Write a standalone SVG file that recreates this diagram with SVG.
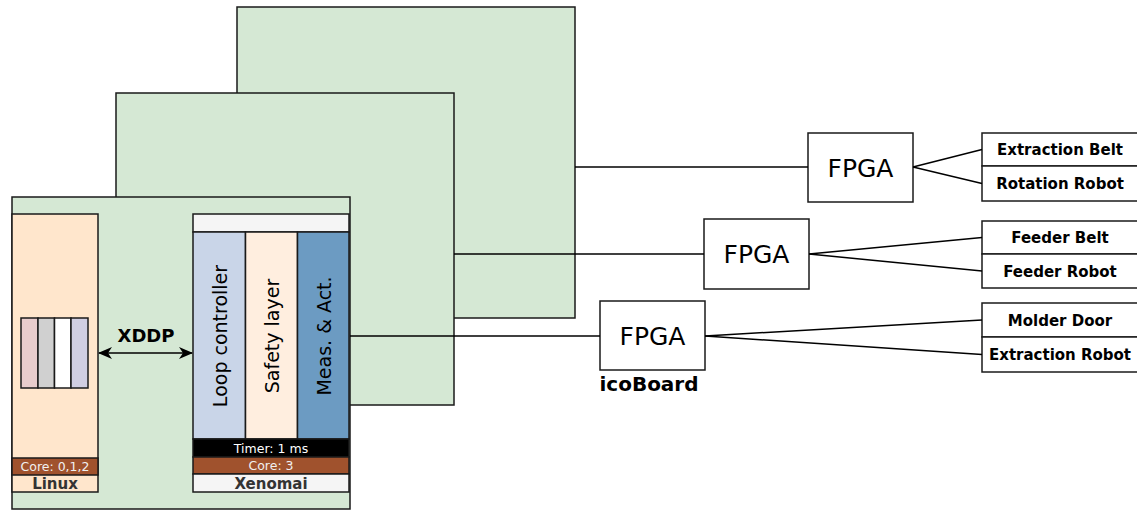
<svg xmlns="http://www.w3.org/2000/svg" width="1137" height="510" viewBox="0 0 1137 510">
<style>
.b{stroke:#1a1a1a;stroke-width:1.5}
.g{fill:#d5e8d4}
.w{fill:#ffffff}
.t{font-family:"DejaVu Sans",Verdana,sans-serif;fill:#000}
.bold{font-weight:bold}
.ln{stroke:#000;stroke-width:1.5;fill:none}
</style>
<defs>
<marker id="ah" viewBox="0 0 14 12" refX="13" refY="6" markerWidth="14" markerHeight="12" markerUnits="userSpaceOnUse" orient="auto-start-reverse">
<path d="M0,0 L14,6 L0,12 L4,6 Z" fill="#000"/>
</marker>
</defs>
<g id="rack3"><rect class="b g" x="237" y="7" width="338" height="311"/></g>
<g id="rack2"><rect class="b g" x="116" y="93" width="338" height="312"/></g>
<g id="rack1"><rect class="b g" x="12" y="197" width="338" height="312"/></g>
<g id="linux">
<rect class="b" fill="#ffe6cc" x="12" y="214" width="86" height="278"/>
<rect class="b" fill="#a0522d" x="12" y="458" width="86" height="17"/>
<text class="t" x="55" y="471" font-size="12.5" fill="#f0f0f0" style="fill:#f0f0f0" text-anchor="middle">Core: 0,1,2</text>
<text class="t bold" x="55" y="489" font-size="15" style="fill:#333" text-anchor="middle">Linux</text>
</g>
<g id="queue">
<rect class="b" fill="#e8cccc" x="21" y="318" width="17" height="70"/>
<rect class="b" fill="#d0d0d0" x="38" y="318" width="16.5" height="70"/>
<rect class="b" fill="#ffffff" x="54.5" y="318" width="16.5" height="70"/>
<rect class="b" fill="#d0cee2" x="71" y="318" width="17" height="70"/>
</g>
<g id="xenomai">
<rect class="b" fill="#f5f5f5" x="193" y="214" width="156" height="18"/>
<rect class="b" fill="#c9d5e8" x="193" y="232" width="52.5" height="207"/>
<rect class="b" fill="#ffeedf" x="245.5" y="232" width="52" height="207"/>
<rect class="b" fill="#6c9bc2" x="297.5" y="232" width="51.5" height="207"/>
<text class="t" font-size="19" text-anchor="middle" dominant-baseline="central" transform="translate(219.5,336) rotate(-90)">Loop controller</text>
<text class="t" font-size="19" text-anchor="middle" dominant-baseline="central" transform="translate(271.5,336) rotate(-90)">Safety layer</text>
<text class="t" font-size="19" text-anchor="middle" dominant-baseline="central" transform="translate(323.5,336) rotate(-90)">Meas. &amp; Act.</text>
<rect class="b" fill="#000" x="193" y="439" width="156" height="18"/>
<text class="t" x="271" y="452.5" font-size="12.5" style="fill:#fff" text-anchor="middle">Timer: 1 ms</text>
<rect class="b" fill="#a0522d" x="193" y="457" width="156" height="17"/>
<text class="t" x="271" y="470" font-size="12.5" style="fill:#f0f0f0" text-anchor="middle">Core: 3</text>
<rect class="b" fill="#f5f5f5" x="193" y="474" width="156" height="18"/>
<text class="t bold" x="271" y="488.5" font-size="15" style="fill:#333" text-anchor="middle">Xenomai</text>
</g>
<g id="fpga1">
<rect class="b w" x="808" y="133" width="105" height="69"/>
<text class="t" x="860.5" y="176.5" font-size="25" text-anchor="middle">FPGA</text>
</g>
<g id="fpga2">
<rect class="b w" x="704" y="219" width="105" height="70"/>
<text class="t" x="756.5" y="263" font-size="25" text-anchor="middle">FPGA</text>
</g>
<g id="fpga3">
<rect class="b w" x="600" y="301" width="105" height="69"/>
<text class="t" x="652.5" y="345" font-size="25" text-anchor="middle">FPGA</text>
<text class="t bold" x="649" y="391" font-size="20" text-anchor="middle">icoBoard</text>
</g>
<g id="extraction-belt">
<rect class="b w" x="982" y="133" width="156" height="33"/>
<text class="t bold" x="1060" y="155" font-size="15" text-anchor="middle">Extraction Belt</text>
</g>
<g id="rotation-robot">
<rect class="b w" x="982" y="166" width="156" height="35"/>
<text class="t bold" x="1060" y="189" font-size="15" text-anchor="middle">Rotation Robot</text>
</g>
<g id="feeder-belt">
<rect class="b w" x="982" y="221" width="156" height="33"/>
<text class="t bold" x="1060" y="243" font-size="15" text-anchor="middle">Feeder Belt</text>
</g>
<g id="feeder-robot">
<rect class="b w" x="982" y="254" width="156" height="34"/>
<text class="t bold" x="1060" y="276.5" font-size="15" text-anchor="middle">Feeder Robot</text>
</g>
<g id="molder-door">
<rect class="b w" x="982" y="303" width="156" height="34"/>
<text class="t bold" x="1060" y="325.5" font-size="15" text-anchor="middle">Molder Door</text>
</g>
<g id="extraction-robot">
<rect class="b w" x="982" y="337" width="156" height="35"/>
<text class="t bold" x="1060" y="360" font-size="15" text-anchor="middle">Extraction Robot</text>
</g>
<g id="connectors">
<line class="ln" x1="575" y1="167" x2="808" y2="167"/>
<line class="ln" x1="454" y1="254" x2="704" y2="254"/>
<line class="ln" x1="350" y1="336" x2="600" y2="336"/>
<line class="ln" x1="913" y1="167" x2="982" y2="149.5"/>
<line class="ln" x1="913" y1="167" x2="982" y2="183.5"/>
<line class="ln" x1="809" y1="254" x2="982" y2="237.5"/>
<line class="ln" x1="809" y1="254" x2="982" y2="271"/>
<line class="ln" x1="705" y1="336" x2="982" y2="320"/>
<line class="ln" x1="705" y1="336" x2="982" y2="354.5"/>
<line class="ln" x1="99" y1="353" x2="192" y2="353" marker-start="url(#ah)" marker-end="url(#ah)" stroke-width="2"/>
<text class="t bold" x="146" y="342" font-size="18" text-anchor="middle">XDDP</text>
</g>
</svg>
